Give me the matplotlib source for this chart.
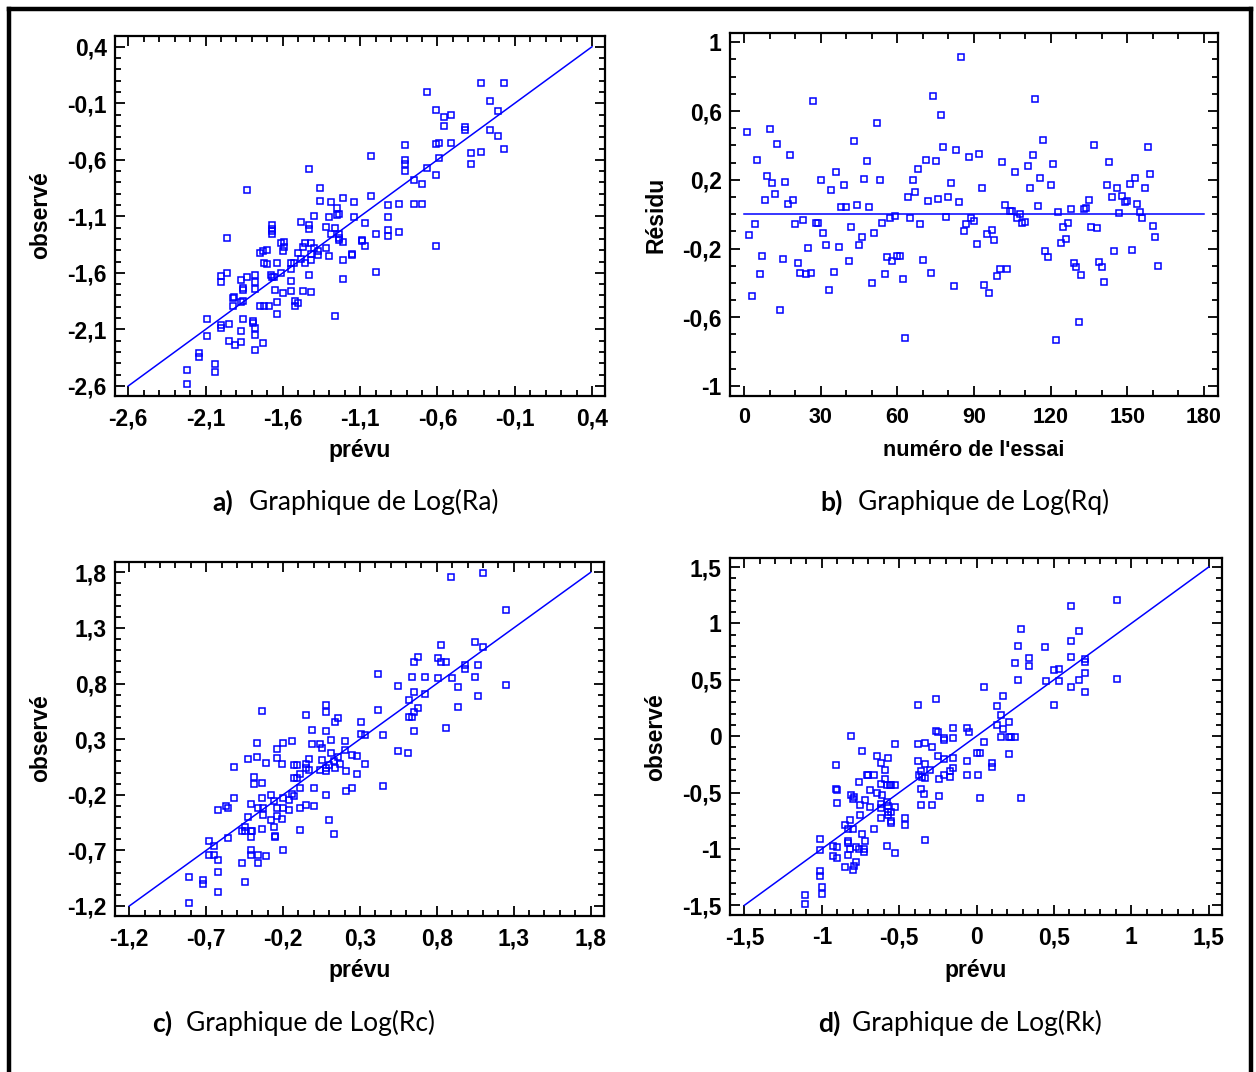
import matplotlib
matplotlib.use('Agg')
import matplotlib.pyplot as plt
import numpy as np
from matplotlib.ticker import MultipleLocator, FixedLocator
from matplotlib.lines import Line2D

# ---- data ----
# a) Log(Ra): predicted vs observed
ra_pred = [-2.22, -2.22, -2.14, -2.14, -2.09, -2.09, -2.04, -2.04, -2.00, -2.00, -2.00, -2.00,
           -1.96, -1.96, -1.95, -1.95, -1.92, -1.915, -1.92, -1.91,
           -1.87, -1.87, -1.86, -1.86, -1.86, -1.86, -1.87, -1.87, -1.83, -1.83,
           -1.79, -1.79, -1.78, -1.78, -1.78, -1.78, -1.78, -1.78,
           -1.75, -1.73, -1.70, -1.72, -1.70, -1.75, -1.72, -1.69, -1.73,
           -1.68, -1.67, -1.66, -1.67, -1.67, -1.67, -1.67,
           -1.64, -1.65, -1.64, -1.64, -1.61, -1.59, -1.59, -1.60, -1.61, -1.60,
           -1.55, -1.55, -1.53, -1.55, -1.55, -1.52, -1.50, -1.52,
           -1.50, -1.48, -1.48, -1.47, -1.46, -1.46,
           -1.43, -1.43, -1.43, -1.42, -1.40, -1.42, -1.42, -1.43, -1.47, -1.42,
           -1.40, -1.37, -1.37, -1.36, -1.36, -1.32, -1.32, -1.30, -1.30, -1.29, -1.29,
           -1.26, -1.25, -1.25, -1.24, -1.24, -1.24, -1.24, -1.21, -1.26,
           -1.21, -1.21, -1.21, -1.15, -1.15, -1.14, -1.14, -1.09, -1.09, -1.07, -1.07,
           -1.03, -1.03, -1.00, -1.00, -0.92, -0.92, -0.92, -0.92, -0.85, -0.85,
           -0.81, -0.81, -0.81, -0.81, -0.75, -0.75, -0.70, -0.70, -0.67, -0.67,
           -0.61, -0.61, -0.61, -0.59, -0.59, -0.61, -0.56, -0.56, -0.51, -0.51,
           -0.42, -0.42, -0.38, -0.38, -0.32, -0.32, -0.26, -0.26, -0.21, -0.21, -0.17, -0.17]
ra_obs = [-2.46, -2.58, -2.31, -2.34, -2.01, -2.16, -2.41, -2.48, -1.63, -1.68, -2.06, -2.09,
          -1.29, -1.60, -2.05, -2.20, -1.82, -1.81, -1.89, -2.24,
          -1.66, -1.86, -1.85, -1.73, -1.75, -2.01, -2.11, -2.21, -0.87, -1.64,
          -2.03, -2.04, -1.62, -1.68, -1.74, -2.09, -2.15, -2.28,
          -1.42, -1.41, -1.40, -1.51, -1.52, -1.89, -1.89, -1.89, -2.22,
          -1.62, -1.64, -1.64, -1.18, -1.21, -1.23, -1.26,
          -1.51, -1.75, -1.86, -1.96, -1.34, -1.33, -1.37, -1.41, -1.60, -1.78,
          -1.57, -1.51, -1.51, -1.67, -1.76, -1.85, -1.87, -1.89,
          -1.42, -1.48, -1.15, -1.37, -1.34, -1.51,
          -0.68, -1.18, -1.21, -1.34, -1.38, -1.43, -1.49, -1.62, -1.76, -1.77,
          -1.10, -1.41, -1.44, -0.85, -0.96, -1.19, -1.38, -1.11, -1.45, -0.97, -1.26,
          -1.20, -1.03, -1.09, -1.08, -1.26, -1.29, -1.31, -1.33, -1.98,
          -0.94, -1.49, -1.65, -1.43, -1.44, -0.97, -1.11, -1.31, -1.32, -1.36, -1.16,
          -0.57, -0.92, -1.26, -1.59, -1.00, -1.11, -1.22, -1.27, -0.99, -1.24,
          -0.47, -0.60, -0.64, -0.70, -0.78, -0.99, -0.81, -0.99, 0.00, -0.67,
          -0.16, -1.36, -0.46, -0.45, -0.58, -0.73, -0.22, -0.30, -0.20, -0.45,
          -0.31, -0.34, -0.54, -0.64, 0.08, -0.53, -0.08, -0.34, -0.17, -0.39, 0.08, -0.50]

# b) Log(Rq): residual per trial
rq_resid = [0.478, -0.120, -0.478, -0.056, 0.317, -0.346, -0.245, 0.082, 0.221, 0.495,
            0.183, 0.118, 0.410, -0.555, -0.260, 0.186, 0.060, 0.342, 0.085, -0.060,
            -0.282, -0.342, -0.035, -0.346, -0.196, -0.342, 0.656, -0.052, -0.049, 0.196,
            -0.107, -0.179, -0.439, 0.140, -0.338, 0.243, -0.192, 0.039, 0.167, 0.043,
            -0.272, -0.074, 0.427, 0.056, -0.179, -0.132, 0.204, 0.307, 0.039, -0.402,
            -0.107, 0.532, 0.196, -0.052, -0.350, -0.252, -0.025, -0.272, -0.008, -0.245,
            -0.245, -0.377, -0.720, 0.097, -0.025, 0.196, 0.128, 0.264, -0.060, -0.266,
            0.317, 0.076, -0.342, 0.685, 0.311, 0.089, 0.575, 0.392, -0.017, 0.097,
            0.183, -0.417, 0.375, 0.072, 0.917, -0.099, -0.056, 0.332, -0.025, -0.039,
            -0.171, 0.348, 0.150, -0.410, -0.117, -0.460, -0.095, -0.153, -0.359, -0.318,
            0.303, 0.056, -0.317, 0.017, 0.017, 0.243, -0.021, 0.000, -0.050, -0.045,
            0.282, 0.153, 0.342, 0.670, 0.047, 0.210, 0.431, -0.214, -0.249, 0.167,
            0.289, -0.734, 0.014, -0.165, -0.076, -0.146, -0.050, 0.029, -0.283, -0.309,
            -0.627, -0.355, 0.029, 0.033, 0.085, -0.076, 0.404, -0.082, -0.280, -0.309,
            -0.396, 0.167, 0.303, 0.101, -0.214, 0.150, 0.004, 0.103, 0.072, 0.076,
            0.175, -0.210, 0.210, 0.060, 0.014, -0.021, 0.150, 0.392, 0.231, -0.070,
            -0.132, -0.299]
rq_trial = np.arange(1, len(rq_resid) + 1)

# c) Log(Rc)
rc_pred = [-0.81, -0.81, -0.72, -0.72, -0.68, -0.68, -0.65, -0.65, -0.62, -0.62, -0.62, -0.62,
           -0.57, -0.56, -0.56, -0.52, -0.52, -0.47, -0.47, -0.45, -0.45, -0.45,
           -0.43, -0.43, -0.41, -0.41, -0.41, -0.41, -0.41, -0.40,
           -0.39, -0.39, -0.37, -0.37, -0.36, -0.36, -0.36, -0.34, -0.34,
           -0.34, -0.34, -0.33, -0.33, -0.31, -0.31, -0.28, -0.28, -0.26, -0.26,
           -0.24, -0.24, -0.25, -0.25, -0.24, -0.24, -0.21, -0.21,
           -0.20, -0.20, -0.20, -0.20, -0.16, -0.16, -0.14, -0.14, -0.13,
           -0.13, -0.13, -0.11, -0.11, -0.09, -0.09, -0.09, -0.09,
           -0.05, -0.05, -0.05, -0.05, -0.03, -0.03, -0.01, -0.01, 0.00, 0.00,
           0.04, 0.04, 0.05, 0.05, 0.08, 0.08, 0.08, 0.08, 0.08, 0.08, 0.10, 0.10,
           0.11, 0.11, 0.13, 0.13, 0.14, 0.14, 0.16, 0.16, 0.17,
           0.20, 0.20, 0.21, 0.21, 0.25, 0.25, 0.28, 0.28, 0.31, 0.31, 0.33, 0.33,
           0.42, 0.42, 0.45, 0.45, 0.55, 0.55, 0.61,
           0.62, 0.62, 0.64, 0.64, 0.65, 0.65, 0.65, 0.65, 0.68, 0.68, 0.72, 0.72,
           0.81, 0.81, 0.83, 0.83, 0.86, 0.86, 0.89, 0.90, 0.94, 0.94, 0.98, 0.98,
           1.05, 1.05, 1.07, 1.07, 1.10, 1.10, 1.25, 1.25]
rc_obs = [-0.94, -1.17, -0.97, -1.00, -0.62, -0.74, -0.74, -0.66, -0.89, -1.07, -0.34, -0.79,
          -0.30, -0.32, -0.59, 0.05, -0.23, -0.81, -0.53, -0.53, -0.49, -0.98,
          0.12, -0.40, -0.53, -0.58, -0.28, -0.70, -0.74, -0.53,
          -0.04, -0.10, 0.27, 0.14, -0.32, -0.74, -0.81, -0.09, -0.51,
          0.55, -0.23, -0.32, -0.38, 0.09, -0.75, -0.20, -0.43, -0.26, -0.49,
          0.21, 0.13, -0.57, -0.58, -0.32, -0.39, 0.08, -0.42,
          0.27, -0.23, -0.32, -0.70, -0.25, -0.34, 0.28, -0.19, -0.21,
          0.07, -0.05, 0.07, -0.05, -0.01, -0.14, -0.32, -0.52,
          0.52, 0.08, 0.04, -0.29, 0.12, 0.02, 0.38, 0.26, -0.14, -0.30,
          0.26, 0.02, 0.22, 0.11, 0.61, 0.54, 0.37, 0.04, 0.01, -0.20, 0.07, -0.43,
          0.29, 0.18, 0.10, -0.55, 0.45, 0.04, 0.49, 0.14, 0.08,
          0.28, 0.20, 0.01, -0.17, 0.16, -0.14, 0.15, -0.01, 0.45, 0.35, 0.34, 0.08,
          0.89, 0.56, 0.34, -0.12, 0.78, 0.19, 0.18,
          0.65, 0.50, 0.86, 0.50, 0.99, 0.72, 0.37, 0.54, 1.04, 0.58, 0.86, 0.71,
          1.03, 0.85, 0.99, 1.15, 0.99, 0.40, 1.76, 0.85, 0.77, 0.59, 0.97, 0.93,
          1.17, 0.86, 0.97, 0.69, 1.79, 1.13, 1.46, 0.79]

# d) Log(Rk)
rk_pred = [-1.11, -1.11, -1.01, -1.01, -1.01, -1.01, -1.00, -1.00, -0.93, -0.93, -0.90, -0.90,
           -0.91, -0.91, -0.90, -0.90, -0.85, -0.85, -0.83, -0.83, -0.83, -0.83, -0.82, -0.82,
           -0.81, -0.81, -0.80, -0.80, -0.79, -0.78, -0.78, -0.79, -0.80,
           -0.76, -0.76, -0.75, -0.75, -0.74, -0.74, -0.73, -0.73, -0.72, -0.72,
           -0.71, -0.70, -0.69, -0.69, -0.66, -0.66, -0.64, -0.64,
           -0.62, -0.62, -0.62, -0.62, -0.62, -0.61, -0.59, -0.59,
           -0.58, -0.58, -0.58, -0.57, -0.57, -0.57, -0.57,
           -0.56, -0.55, -0.55, -0.55, -0.55, -0.53, -0.53, -0.53, -0.53, -0.46, -0.46,
           -0.38, -0.38, -0.38, -0.37, -0.36, -0.36, -0.36, -0.35, -0.34, -0.33, -0.33, -0.33, -0.33,
           -0.30, -0.29, -0.29, -0.26, -0.26, -0.25, -0.25, -0.24, -0.24,
           -0.21, -0.21, -0.21, -0.21, -0.17, -0.17, -0.15, -0.15, -0.15, -0.15,
           -0.06, -0.05, -0.06, -0.06, 0.00, 0.01, 0.02, 0.02, 0.05, 0.05, 0.10, 0.10,
           0.13, 0.13, 0.16, 0.16, 0.17, 0.17, 0.21, 0.21, 0.21, 0.22, 0.25,
           0.25, 0.27, 0.27, 0.29, 0.29, 0.34, 0.34, 0.44, 0.45, 0.50, 0.50, 0.53, 0.53,
           0.61, 0.61, 0.61, 0.61, 0.66, 0.66, 0.70, 0.70, 0.70, 0.70, 0.91, 0.91]
rk_obs = [-1.41, -1.49, -0.91, -1.01, -1.20, -1.24, -1.34, -1.40, -0.97, -1.06, -0.98, -1.08,
          -0.26, -0.47, -0.48, -0.59, -0.79, -1.16, -0.93, -0.95, -1.05, -0.82, -0.74, -1.00,
          0.00, -0.52, -0.56, -0.82, -0.54, -0.98, -1.12, -1.15, -1.19,
          -0.41, -1.00, -0.61, -0.70, -0.13, -0.87, -1.00, -1.03, -0.57, -0.93,
          -0.34, -0.34, -0.48, -0.63, -0.34, -0.82, -0.18, -0.50,
          -0.24, -0.42, -0.60, -0.73, -0.64, -0.52, -0.30, -0.38,
          -0.43, -0.58, -0.97, -0.19, -0.62, -0.67, -0.70,
          -0.43, -0.43, -0.75, -0.77, -0.67, -0.43, -0.07, -0.63, -1.04, -0.73, -0.79,
          0.28, -0.07, -0.22, -0.34, -0.31, -0.47, -0.61, -0.36, -0.51, -0.06, -0.25, -0.37, -0.92,
          -0.30, -0.61, -0.10, 0.33, 0.05, 0.04, -0.18, -0.38, -0.53,
          -0.03, -0.20, -0.02, -0.34, -0.36, -0.31, 0.07, -0.02, -0.19, -0.28,
          0.07, 0.04, -0.22, -0.34, -0.15, -0.34, -0.15, -0.55, 0.44, -0.05, -0.24, -0.27,
          0.27, 0.10, 0.19, -0.01, 0.36, 0.06, 0.13, -0.01, -0.16, -0.01, -0.01,
          0.65, 0.80, 0.50, 0.95, -0.55, 0.69, 0.62, 0.79, 0.49, 0.59, 0.28, 0.60, 0.49,
          0.84, 0.70, 1.15, 0.44, 0.93, 0.50, 0.68, 0.66, 0.56, 0.39, 1.21, 0.51]

# axis ticks
ra_ticks = [-2.6, -2.1, -1.6, -1.1, -0.6, -0.1, 0.4]
rq_xticks = [0, 30, 60, 90, 120, 150, 180]
rq_yticks = [-1, -0.6, -0.2, 0.2, 0.6, 1]
rc_ticks = [-1.2, -0.7, -0.2, 0.3, 0.8, 1.3, 1.8]
rk_ticks = [-1.5, -1, -0.5, 0, 0.5, 1, 1.5]

W, H = 1256, 1072
BLUE = '#0000ff'
TICKFONT = 'Liberation Sans'
CAPFONT = 'Lato'
FS = 16.5


def fmt(v):
    return ('%g' % v).replace('.', ',')


def px_axes(fig, x0, y0, x1, y1):
    return fig.add_axes([x0 / W, 1 - y1 / H, (x1 - x0) / W, (y1 - y0) / H])


def style(ax, xticks, yticks, xminor, yminor, xsize=FS):
    for s in ax.spines.values():
        s.set_linewidth(1.6)
    ax.xaxis.set_major_locator(FixedLocator(xticks))
    ax.yaxis.set_major_locator(FixedLocator(yticks))
    ax.xaxis.set_minor_locator(MultipleLocator(xminor))
    ax.yaxis.set_minor_locator(MultipleLocator(yminor))
    ax.set_xticklabels([fmt(t) for t in xticks], fontfamily=TICKFONT, fontweight='bold', fontsize=xsize)
    ax.set_yticklabels([fmt(t) for t in yticks], fontfamily=TICKFONT, fontweight='bold', fontsize=FS)
    ax.tick_params(which='both', direction='in', top=True, right=True, width=1.3)
    ax.tick_params(which='major', length=7)
    ax.tick_params(which='minor', length=4)
    ax.tick_params(axis='x', which='major', pad=8)
    ax.tick_params(axis='y', which='major', pad=6)


def scatter_sq(ax, x, y):
    ax.plot(x, y, linestyle='none', marker='s', markersize=3.9, markerfacecolor='none',
            markeredgecolor=BLUE, markeredgewidth=1.1)


fig = plt.figure(figsize=(W / 100, H / 100), dpi=100)

# a)
ax = px_axes(fig, 115, 36, 605, 396)
scatter_sq(ax, ra_pred, ra_obs)
ax.plot([-2.6, 0.4], [-2.6, 0.4], color=BLUE, linewidth=1.1)
ax.set_xlim(-2.686, 0.484)
ax.set_ylim(-2.689, 0.495)
style(ax, ra_ticks, ra_ticks, 0.1, 0.1)

# b)
ax = px_axes(fig, 730, 33, 1218, 396)
scatter_sq(ax, rq_trial, rq_resid)
ax.plot([0, 180], [0, 0], color=BLUE, linewidth=1.1)
ax.set_xlim(-5.6, 185.6)
ax.set_ylim(-1.058, 1.054)
style(ax, rq_xticks, rq_yticks, 10, 0.1, xsize=15.5)

# c)
ax = px_axes(fig, 115, 562, 604, 916)
scatter_sq(ax, rc_pred, rc_obs)
ax.plot([-1.2, 1.8], [-1.2, 1.8], color=BLUE, linewidth=1.1)
ax.set_xlim(-1.293, 1.887)
ax.set_ylim(-1.290, 1.893)
style(ax, rc_ticks, rc_ticks, 0.1, 0.1)

# d)
ax = px_axes(fig, 730, 558, 1222, 915)
scatter_sq(ax, rk_pred, rk_obs)
ax.plot([-1.5, 1.5], [-1.5, 1.5], color=BLUE, linewidth=1.1)
ax.set_xlim(-1.593, 1.586)
ax.set_ylim(-1.586, 1.58)
style(ax, rk_ticks, rk_ticks, 0.1, 0.1)

# axis titles
lab = dict(fontfamily=TICKFONT, fontweight='bold', fontsize=FS, ha='center', va='center')
fig.text(360 / W, 1 - 451 / H, 'prévu', **lab)
fig.text(974 / W, 1 - 451 / H, "numéro de l'essai", **dict(lab, fontsize=15.5))
fig.text(360 / W, 1 - 971 / H, 'prévu', **lab)
fig.text(976 / W, 1 - 971 / H, 'prévu', **lab)
fig.text(41 / W, 1 - 215 / H, 'observé', rotation=90, **lab)
fig.text(656 / W, 1 - 215 / H, 'Résidu', rotation=90, **lab)
fig.text(41 / W, 1 - 738 / H, 'observé', rotation=90, **lab)
fig.text(656 / W, 1 - 737 / H, 'observé', rotation=90, **lab)

# captions
captions = [('a)', 'Graphique de Log(Ra)', 212, 249, 502),
            ('b)', 'Graphique de Log(Rq)', 820, 858, 502),
            ('c)', 'Graphique de Log(Rc)', 152, 186, 1023),
            ('d)', 'Graphique de Log(Rk)', 818, 852, 1023)]
for tag, txt, xt, xc, yc in captions:
    fig.text(xt / W, 1 - yc / H, tag, fontfamily=CAPFONT, fontweight='bold', fontsize=19, va='center')
    fig.text(xc / W, 1 - yc / H, txt, fontfamily=CAPFONT, fontsize=19, va='center')

# outer frame (top, left, right)
for xs, ys in [([9, 1251], [9, 9]), ([9, 9], [9, H]), ([1251, 1251], [9, H])]:
    fig.add_artist(Line2D([x / W for x in xs], [1 - y / H for y in ys], color='black', linewidth=3.2,
                          solid_capstyle='projecting'))

fig.savefig('out.png', dpi=100)
